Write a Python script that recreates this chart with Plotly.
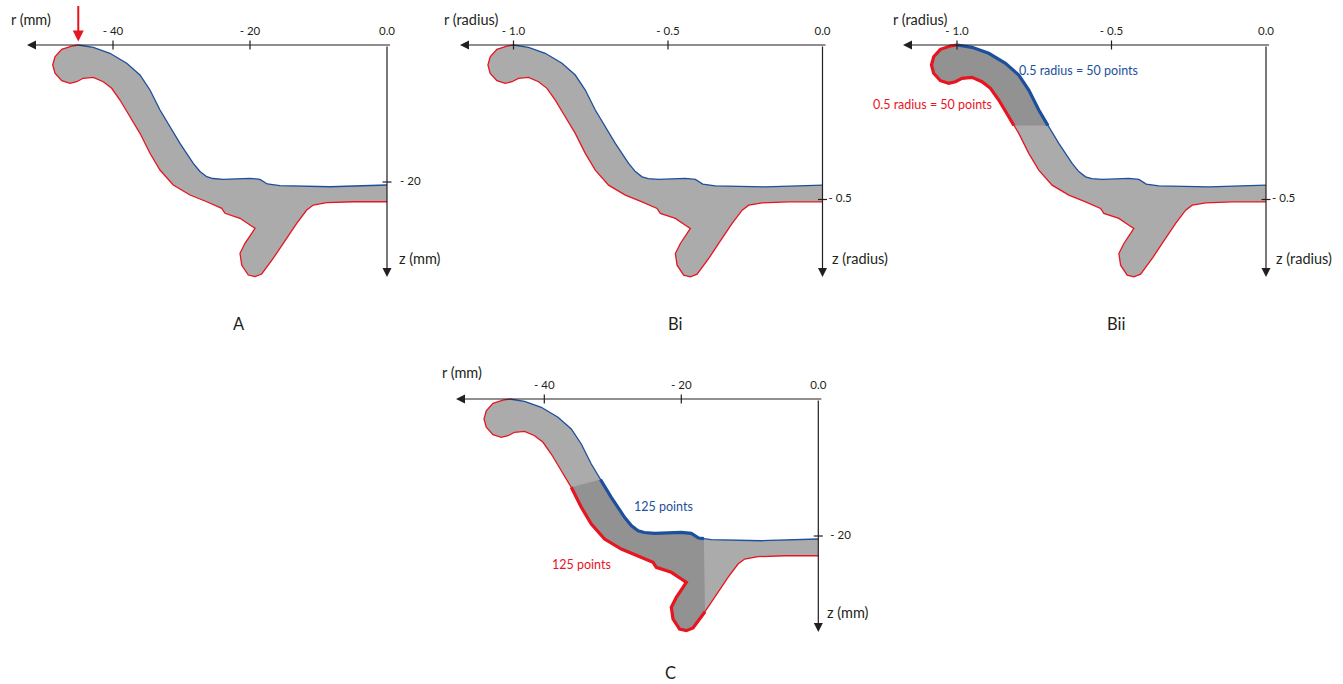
import plotly.graph_objects as go

W, H = 1343, 684

# ---------------- data (mm) ----------------
# outer (red) contour: from rim top, round the lip, down to the foot and along the base to the axis
OUTER_R = [-45.07, -46.03, -47.49, -48.47, -48.80, -48.47, -47.49, -46.28, -45.30, -44.34,
           -42.88, -41.42, -40.19, -38.98, -37.52, -36.78, -36.06, -34.60, -33.14, -31.20,
           -28.76, -26.32, -24.13, -23.65, -21.46, -20.00, -19.27, -19.75, -20.73, -21.46,
           -21.21, -20.25, -19.27, -18.29, -17.08, -16.54, -15.14, -13.18, -11.72, -10.76,
           -8.80, -4.92, 0.0]
OUTER_Z = [0.0, -0.15, -0.63, -1.71, -2.92, -4.13, -5.21, -5.59, -5.36, -4.86,
           -4.72, -5.36, -6.32, -8.03, -10.47, -11.75, -12.89, -15.80, -18.25, -20.44,
           -21.90, -22.88, -23.84, -24.57, -25.30, -26.28, -26.76, -27.49, -28.95, -30.41,
           -32.12, -33.58, -33.82, -33.43, -31.87, -31.05, -28.95, -26.03, -24.09, -23.36,
           -23.02, -22.88, -22.88]
# inner (blue) contour: from rim top down to the axis
INNER_R = [-45.07, -42.88, -40.44, -38.00, -36.06, -34.60, -33.14, -31.80, -30.22, -28.28,
           -27.30, -26.32, -25.40, -23.90, -20.00, -18.54, -17.47, -16.70, -15.62, -8.32, 0.0]
INNER_Z = [0.0, -0.34, -1.21, -2.67, -4.38, -6.57, -9.49, -11.75, -14.35, -17.27,
           -18.47, -19.23, -19.49, -19.61, -19.46, -19.61, -20.29, -20.39, -20.54, -20.69, -20.44]

RIM_RADIUS_MM = 45.07

# segment indices of highlighted parts
BII_OUTER_END = 15
BII_INNER_END = 7
C_OUTER_RANGE = (16, 35)
C_INNER_RANGE = (7, 17)

MM_R_TICKS = [-40, -20, 0]
MM_R_LABELS = ["- 40", "- 20", "0.0"]
MM_Z_TICKS = [-20]
MM_Z_LABELS = ["- 20"]
RAD_R_TICKS = [-1.0, -0.5, 0.0]
RAD_R_LABELS = ["- 1.0", "- 0.5", "0.0"]
RAD_Z_TICKS = [-0.5]
RAD_Z_LABELS = ["- 0.5"]

# ---------------- style ----------------
FONT = "Lato"
AXIS_COLOR = "#231f20"
RED = "#e8141f"
BLUE = "#1c4f9c"
BODY = "#ababab"
DARK = "#929292"

PANELS = [
    dict(name="A", origin=(387.0, 45.0), scale=6.85, box=(0, 0, 445, 300), unit=1.0,
         rticks=MM_R_TICKS, rlabels=MM_R_LABELS, zticks=MM_Z_TICKS, zlabels=MM_Z_LABELS,
         rtip_px=27, ztip_px=277, zlab_dx=13,
         rtitle=("r (mm)", 31, 19), ztitle=("z (mm)", 420, 258), letter=("A", 239, 324)),
    dict(name="Bi", origin=(822.5, 45.0), scale=309.0, box=(445, 0, 895, 300), unit=RIM_RADIUS_MM,
         rticks=RAD_R_TICKS, rlabels=RAD_R_LABELS, zticks=RAD_Z_TICKS, zlabels=RAD_Z_LABELS,
         rtip_px=460, ztip_px=277, zlab_dx=6,
         rtitle=("r (radius)", 471, 19), ztitle=("z (radius)", 860, 258), letter=("Bi", 675, 324)),
    dict(name="Bii", origin=(1266.0, 45.0), scale=309.0, box=(895, 0, 1343, 300), unit=RIM_RADIUS_MM,
         rticks=RAD_R_TICKS, rlabels=RAD_R_LABELS, zticks=RAD_Z_TICKS, zlabels=RAD_Z_LABELS,
         rtip_px=903, ztip_px=277, zlab_dx=6,
         rtitle=("r (radius)", 920, 19), ztitle=("z (radius)", 1304, 258), letter=("Bii", 1116, 324)),
    dict(name="C", origin=(818.3, 399.0), scale=6.85, box=(440, 340, 900, 660), unit=1.0,
         rticks=MM_R_TICKS, rlabels=MM_R_LABELS, zticks=MM_Z_TICKS, zlabels=MM_Z_LABELS,
         rtip_px=456, ztip_px=632, zlab_dx=12,
         rtitle=("r (mm)", 462, 373), ztitle=("z (mm)", 848, 612), letter=("C", 670, 673)),
]

fig = go.Figure()
layout = dict(width=W, height=H, margin=dict(l=0, r=0, t=0, b=0),
              paper_bgcolor="white", plot_bgcolor="white", showlegend=False,
              font=dict(family=FONT, color=AXIS_COLOR))


def line_trace(xs, ys, color, width, xr, yr):
    return go.Scatter(x=xs, y=ys, mode="lines", line=dict(color=color, width=width),
                      xaxis=xr, yaxis=yr, hoverinfo="skip")


def fill_trace(xs, ys, color, xr, yr):
    return go.Scatter(x=xs, y=ys, mode="lines", fill="toself", fillcolor=color,
                      line=dict(width=0, color=color), xaxis=xr, yaxis=yr, hoverinfo="skip")


annotations = []
for i, p in enumerate(PANELS):
    k = "" if i == 0 else str(i + 1)
    xr, yr = "x" + k, "y" + k
    ox, oy = p["origin"]
    s = p["scale"]
    bx0, by0, bx1, by1 = p["box"]
    layout["xaxis" + k] = dict(domain=[bx0 / W, bx1 / W], range=[(bx0 - ox) / s, (bx1 - ox) / s],
                               visible=False, fixedrange=True)
    layout["yaxis" + k] = dict(domain=[1 - by1 / H, 1 - by0 / H], range=[(oy - by1) / s, (oy - by0) / s],
                               visible=False, fixedrange=True)
    u = p["unit"]
    orr = [v / u for v in OUTER_R]
    oz = [v / u for v in OUTER_Z]
    ir = [v / u for v in INNER_R]
    iz = [v / u for v in INNER_Z]

    # body
    fig.add_trace(fill_trace(orr + ir[::-1], oz + iz[::-1], BODY, xr, yr))

    if p["name"] == "Bii":
        a = BII_OUTER_END
        b = BII_INNER_END
        fig.add_trace(fill_trace(orr[:a + 1] + ir[:b + 1][::-1], oz[:a + 1] + iz[:b + 1][::-1], DARK, xr, yr))
    if p["name"] == "C":
        a0, a1 = C_OUTER_RANGE
        b0, b1 = C_INNER_RANGE
        fig.add_trace(fill_trace(orr[a0:a1 + 1] + ir[b0:b1 + 1][::-1],
                                 oz[a0:a1 + 1] + iz[b0:b1 + 1][::-1], DARK, xr, yr))

    # contours
    fig.add_trace(line_trace(orr, oz, RED, 1.3, xr, yr))
    fig.add_trace(line_trace(ir, iz, BLUE, 1.3, xr, yr))

    if p["name"] == "Bii":
        fig.add_trace(line_trace(orr[:BII_OUTER_END + 1], oz[:BII_OUTER_END + 1], RED, 3.2, xr, yr))
        fig.add_trace(line_trace(ir[:BII_INNER_END + 1], iz[:BII_INNER_END + 1], BLUE, 3.2, xr, yr))
    if p["name"] == "C":
        a0, a1 = C_OUTER_RANGE
        b0, b1 = C_INNER_RANGE
        fig.add_trace(line_trace(orr[a0:a1 + 1], oz[a0:a1 + 1], RED, 3.2, xr, yr))
        fig.add_trace(line_trace(ir[b0:b1 + 1], iz[b0:b1 + 1], BLUE, 3.2, xr, yr))

    # tick marks
    h = 4.5 / s
    tx, ty = [], []
    for t in p["rticks"]:
        if t != 0:
            tx += [t, t, None]
            ty += [h, -h, None]
    for t in p["zticks"]:
        tx += [-h, h, None]
        ty += [t, t, None]
    fig.add_trace(line_trace(tx, ty, AXIS_COLOR, 1.2, xr, yr))

    # tick labels
    fig.add_trace(go.Scatter(x=p["rticks"], y=[12.5 / s] * len(p["rticks"]), mode="text",
                             text=p["rlabels"], textposition="middle center",
                             textfont=dict(family=FONT, size=11.5, color=AXIS_COLOR),
                             xaxis=xr, yaxis=yr, hoverinfo="skip", cliponaxis=False))
    fig.add_trace(go.Scatter(x=[p["zlab_dx"] / s] * len(p["zticks"]), y=p["zticks"], mode="text",
                             text=p["zlabels"], textposition="middle right",
                             textfont=dict(family=FONT, size=11.5, color=AXIS_COLOR),
                             xaxis=xr, yaxis=yr, hoverinfo="skip", cliponaxis=False))

    # axes with arrowheads
    rtip = (p["rtip_px"] - ox) / s
    ztip = (oy - p["ztip_px"]) / s
    annotations.append(dict(x=rtip, y=0, ax=4.5 / s, ay=0, xref=xr, yref=yr, axref=xr, ayref=yr,
                            text="", showarrow=True, arrowhead=2, arrowsize=1.5, arrowwidth=1.2,
                            arrowcolor=AXIS_COLOR, standoff=0))
    annotations.append(dict(x=0, y=ztip, ax=0, ay=0, xref=xr, yref=yr, axref=xr, ayref=yr,
                            text="", showarrow=True, arrowhead=2, arrowsize=1.5, arrowwidth=1.2,
                            arrowcolor=AXIS_COLOR, standoff=0))

    # titles
    for txt, px, py, size in [(p["rtitle"][0], p["rtitle"][1], p["rtitle"][2], 14.5),
                              (p["ztitle"][0], p["ztitle"][1], p["ztitle"][2], 14.5),
                              (p["letter"][0], p["letter"][1], p["letter"][2], 16.5)]:
        annotations.append(dict(x=px / W, y=1 - py / H, xref="paper", yref="paper", text=txt,
                                showarrow=False, xanchor="center", yanchor="middle", borderpad=0,
                                font=dict(family=FONT, size=size, color=AXIS_COLOR)))

    if p["name"] == "A":
        annotations.append(dict(x=OUTER_R[0], y=0.5, ax=OUTER_R[0], ay=5.9, xref=xr, yref=yr,
                                axref=xr, ayref=yr, text="", showarrow=True, arrowhead=2,
                                arrowsize=1.1, arrowwidth=2, arrowcolor=RED, standoff=0))

# point-count annotations
for txt, px, py, col in [("0.5 radius = 50 points", 1078, 71, BLUE),
                         ("0.5 radius = 50 points", 932, 104, RED),
                         ("125 points", 663, 506, BLUE),
                         ("125 points", 581, 564, RED)]:
    annotations.append(dict(x=px / W, y=1 - py / H, xref="paper", yref="paper", text=txt,
                            showarrow=False, xanchor="center", yanchor="middle",
                            font=dict(family=FONT, size=12.5, color=col)))

layout["annotations"] = annotations
fig.update_layout(**layout)
fig.write_html("out.html")
